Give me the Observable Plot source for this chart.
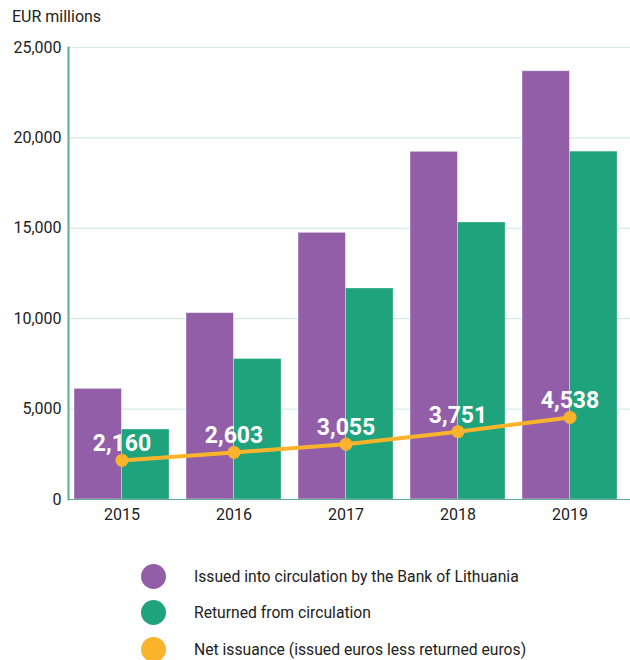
<!DOCTYPE html>
<html>
<head>
<meta charset="utf-8">
<script src="https://cdn.jsdelivr.net/npm/d3@7"></script>
<script src="https://cdn.jsdelivr.net/npm/@observablehq/plot@0.6"></script>
<style>
  html, body { margin: 0; padding: 0; background: #fff; }
  body { width: 630px; height: 660px; position: relative; font-family: Roboto, "Noto Sans", sans-serif; color: #222; }
  #title { position: absolute; left: 12px; top: 9px; font-size: 16px; line-height: 16px; }
  #chart { position: absolute; left: 0; top: 0; }
  .legend-row { position: absolute; left: 141px; height: 26px; display: flex; align-items: center; font-size: 15.7px; }
  .legend-row .sw { width: 25px; height: 25px; border-radius: 50%; margin-right: 28px; }
</style>
</head>
<body>
<div id="chart"></div>
<div id="title">EUR millions</div>
<div id="legend"></div>
<script>
const years = ["2015", "2016", "2017", "2018", "2019"];
const issued = [6120, 10310, 14750, 19230, 23690];
const returned = [3870, 7770, 11670, 15320, 19240];
const net = [2160, 2603, 3055, 3751, 4538];
const yTicks = [0, 5000, 10000, 15000, 20000, 25000];
const seriesNames = [
  "Issued into circulation by the Bank of Lithuania",
  "Returned from circulation",
  "Net issuance (issued euros less returned euros)"
];
const colors = ["#925ea8", "#1ea37c", "#fab42c"];

const issuedData = years.map((y, i) => ({year: y, value: issued[i]}));
const returnedData = years.map((y, i) => ({year: y, value: returned[i]}));
const netData = years.map((y, i) => ({year: y, value: net[i]}));

const half = 47.5;
const plot = Plot.plot({
  width: 630,
  height: 540,
  marginTop: 47,
  marginBottom: 41,
  marginLeft: 68,
  marginRight: 0,
  style: {fontFamily: "Roboto, sans-serif", fontSize: "16px", color: "#222", background: "transparent"},
  x: {domain: years, range: [68, 622], paddingInner: 0.154, paddingOuter: 0.042, label: null},
  y: {domain: [0, 25000], label: null},
  marks: [
    Plot.gridY(yTicks, {stroke: "#d3ebe2", strokeOpacity: 1, strokeWidth: 1.2}),
    Plot.barY(issuedData, {x: "year", y: "value", fill: colors[0], insetRight: half, stroke: "#fff", strokeOpacity: 0.45, strokeWidth: 1}),
    Plot.barY(returnedData, {x: "year", y: "value", fill: colors[1], insetLeft: half, stroke: "#fff", strokeOpacity: 0.3, strokeWidth: 1}),
    Plot.ruleY([0], {stroke: "#5fae92", strokeWidth: 1.2}),
    Plot.frame({anchor: "left", stroke: "#5fae92", strokeWidth: 2}),
    Plot.line(netData, {x: "year", y: "value", stroke: colors[2], strokeWidth: 4}),
    Plot.dot(netData, {x: "year", y: "value", r: 6.5, fill: colors[2]}),
    Plot.text(netData, {x: "year", y: "value", text: d => d3.format(",")(d.value), fill: "#fff", fontSize: 23, fontWeight: "bold", lineAnchor: "bottom", dy: -9}),
    Plot.axisY(yTicks, {tickSize: 0, tickPadding: 7, tickFormat: d3.format(","), fontSize: 16, fill: "#222"}),
    Plot.axisX({tickSize: 0, tickPadding: 9, fontSize: 16, fill: "#222"})
  ]
});
document.getElementById("chart").appendChild(plot);

const legend = document.getElementById("legend");
const legendTops = [563, 599, 636];
seriesNames.forEach((name, i) => {
  const row = document.createElement("div");
  row.className = "legend-row";
  row.style.top = legendTops[i] + "px";
  const sw = document.createElement("div");
  sw.className = "sw";
  sw.style.background = colors[i];
  const label = document.createElement("span");
  label.textContent = name;
  row.appendChild(sw);
  row.appendChild(label);
  legend.appendChild(row);
});
</script>
</body>
</html>
